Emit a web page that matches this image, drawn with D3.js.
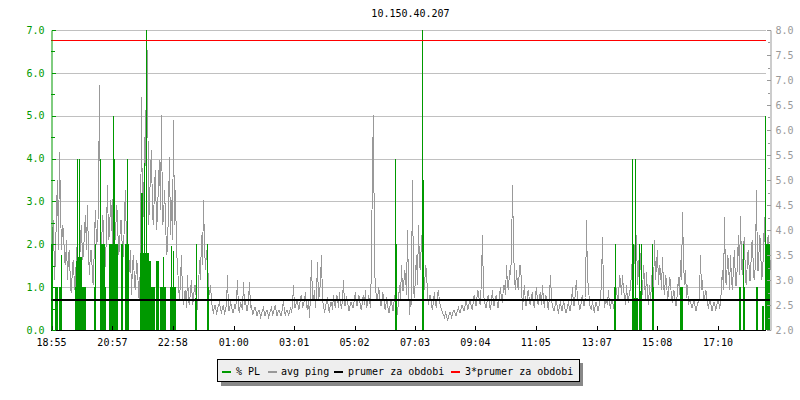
<!DOCTYPE html>
<html><head><meta charset="utf-8">
<script src="https://cdn.jsdelivr.net/npm/d3@7"></script>
<style>
body{margin:0;background:#fff;}
svg text{font-family:"DejaVu Sans Mono",monospace;font-size:10px;}
</style>
</head><body>
<svg id="c" width="800" height="400"></svg>
<script>
// ---------- data ----------
const chartTitle = "10.150.40.207";
const startLabel = "18:55";
const stepMinutes = 2;
const spanMinutes = 1440;
const timeTickLabels = ["18:55","20:57","22:58","01:00","03:01","05:02","07:03","09:04","11:05","13:07","15:08","17:10"];
const leftTickLabels = ["0.0","1.0","2.0","3.0","4.0","5.0","6.0","7.0"];
const rightTickLabels = ["2.0","2.5","3.0","3.5","4.0","4.5","5.0","5.5","6.0","6.5","7.0","7.5","8.0"];
const legendLabels = ["% PL","avg ping","prumer za obdobi","3*prumer za obdobi"];

// avg ping (ms), one value every 2 minutes from 18:55
const avgPing = [
3.3,3.9,4.2,3.0,3.5,4.4,5.0,3.6,5.55,4.5,
3.6,4.1,4.0,3.4,3.3,3.8,3.0,3.5,3.6,2.8,
2.75,3.3,3.4,2.8,2.9,3.6,3.7,3.0,3.2,3.9,
4.1,3.4,3.5,4.0,4.3,3.6,4.5,3.5,3.1,3.6,
3.6,3.0,2.9,3.9,4.4,3.7,3.8,4.6,6.9,3.9,
3.6,4.3,4.1,3.2,3.3,4.0,4.9,3.8,3.9,4.6,
4.4,3.6,5.6,4.0,3.8,4.5,4.3,3.5,3.6,4.2,
4.2,3.4,3.5,4.3,4.8,3.6,3.7,3.1,3.2,3.6,
2.7,3.3,3.5,2.9,2.8,3.4,3.3,2.7,2.6,3.5,
6.65,3.9,4.6,5.3,6.4,4.2,7.6,4.1,4.5,5.2,
5.6,4.3,4.1,4.9,5.2,4.0,4.3,5.0,5.4,4.4,
6.3,4.1,4.2,4.8,4.3,3.5,3.6,4.5,5.45,3.9,
4.6,3.8,6.2,4.1,4.8,3.6,3.3,2.9,2.6,3.0,
3.5,2.7,2.5,2.75,2.8,2.45,3.1,2.6,2.5,2.8,
3.0,2.5,2.6,2.9,2.9,2.5,2.4,2.8,3.4,3.0,
3.9,3.3,4.6,3.7,3.2,3.6,3.4,2.9,2.7,2.9,
2.6,2.4,2.35,2.5,2.5,2.3,2.4,2.5,2.55,2.4,
2.35,2.45,2.5,2.3,2.4,2.5,3.1,2.4,2.4,2.55,
2.5,2.35,2.35,2.5,2.45,2.6,3.0,2.4,2.35,2.55,
2.5,2.4,2.95,2.5,2.6,2.4,2.4,2.6,2.95,2.45,
2.5,2.3,2.35,2.45,2.45,2.3,2.3,2.4,2.4,2.25,
2.3,2.4,2.45,2.3,2.3,2.4,2.4,2.25,2.3,2.4,
2.45,2.3,2.35,2.45,2.5,2.3,2.3,2.4,2.4,2.3,
2.3,2.45,2.6,2.35,2.3,2.4,2.4,2.3,2.35,2.45,
2.35,2.5,2.9,2.45,2.45,2.6,2.6,2.4,2.45,2.65,
2.7,2.45,2.5,2.6,2.75,2.5,2.4,2.6,2.25,2.7,
3.4,2.6,2.6,2.8,2.45,2.7,3.35,2.6,2.7,3.0,
3.5,2.6,2.5,2.35,2.45,2.6,2.65,2.4,2.35,2.55,
2.55,2.4,2.7,2.5,2.45,2.7,2.65,2.45,2.75,2.5,
2.45,2.6,3.0,2.5,2.5,2.65,2.6,2.4,2.4,2.55,
2.55,2.45,2.45,2.65,2.75,2.5,2.5,2.7,2.65,2.45,
2.4,2.6,2.7,2.5,2.8,2.45,2.5,2.7,2.6,2.45,
3.35,5.4,6.3,3.2,2.9,2.6,2.6,2.85,2.75,2.5,
2.5,2.75,2.7,2.45,2.4,2.65,2.55,2.35,2.35,2.6,
2.6,2.4,2.4,2.7,2.7,2.5,2.3,2.6,2.9,2.6,
3.3,2.8,2.8,3.2,3.1,2.7,4.0,2.9,2.3,2.6,
2.5,2.9,5.0,2.8,2.65,3.1,3.5,2.9,4.1,3.3,
3.2,3.9,3.6,3.0,2.8,3.3,3.2,2.7,2.5,2.7,
2.7,2.5,2.4,2.6,2.75,2.5,2.45,2.7,2.8,2.55,
2.5,2.4,2.35,2.3,2.25,2.35,2.3,2.2,2.25,2.35,
2.35,2.25,2.3,2.4,2.4,2.3,2.3,2.4,2.45,2.35,
2.35,2.5,2.5,2.4,2.4,2.55,2.6,2.4,2.45,2.6,
2.55,2.45,2.4,2.65,2.7,2.5,2.5,2.8,2.75,2.55,
2.5,3.1,3.9,2.7,2.6,2.45,2.45,2.65,2.7,2.5,
2.4,2.6,2.8,2.5,2.5,2.65,2.7,2.45,2.45,2.7,
2.85,2.6,2.55,2.9,2.9,2.7,3.3,2.9,2.8,3.2,
3.1,3.5,4.9,3.7,3.0,2.8,3.2,2.9,2.8,3.3,
3.3,2.9,2.4,2.7,2.9,2.5,2.5,2.75,2.8,2.55,
2.5,2.7,2.75,2.5,2.45,2.7,2.85,2.55,2.5,2.7,
2.75,2.5,2.9,2.6,2.45,2.7,2.65,2.5,2.4,2.7,
3.1,2.6,2.5,2.4,2.4,2.55,2.6,2.4,2.35,2.5,
2.55,2.4,2.4,2.6,2.5,2.35,2.35,2.5,2.55,2.4,
2.4,2.6,2.85,2.5,2.5,2.8,3.0,2.6,2.6,2.4,
2.45,2.6,2.7,2.5,2.5,2.65,4.2,3.0,2.9,2.5,
2.45,2.4,2.6,2.4,2.35,2.55,2.55,2.4,2.4,2.55,
2.6,3.0,3.85,2.8,2.45,2.6,2.6,2.5,2.8,2.5,
2.45,2.6,2.6,2.45,2.5,2.9,2.8,2.6,2.6,3.1,
3.0,2.7,3.1,2.8,2.7,2.5,2.9,2.6,2.55,2.8,
2.8,3.2,3.45,2.9,3.7,3.1,3.9,2.9,3.2,3.6,
3.5,2.9,2.7,3.3,3.0,2.6,3.15,2.7,2.5,2.9,
2.6,2.9,3.3,2.7,3.8,3.0,3.3,3.6,2.9,3.3,
3.2,2.8,3.45,2.9,2.7,3.1,3.0,2.6,2.7,3.05,
3.0,2.6,2.55,2.8,2.75,2.5,2.5,2.8,3.05,2.7,
3.4,3.0,4.35,3.4,2.9,3.2,2.65,2.9,2.5,2.6,
2.6,2.45,2.45,2.6,2.55,2.4,2.4,2.55,2.55,2.7,
3.5,2.8,3.0,2.6,2.6,2.8,2.75,2.5,2.45,2.6,
2.6,2.4,2.4,2.55,2.55,2.4,2.45,2.6,2.6,2.45,
2.5,2.9,3.2,2.8,4.25,3.0,2.9,3.5,3.4,2.8,
3.5,3.0,2.8,3.3,3.6,2.9,2.9,3.4,3.9,3.1,
4.28,3.3,3.1,3.7,3.85,3.0,2.9,3.5,3.6,3.0,
3.0,3.7,3.8,3.1,3.0,3.4,4.8,3.2,3.2,3.9,
3.8,3.0,3.1,3.6,4.25,3.3,3.2,3.8,3.9,3.0,
3.4
];

// packet loss (%), minutes after 18:55 where it is non-zero
const plMinutes = [0,2,8,10,12,16,18,20,
48,50,52,54,56,58,60,62,64,66,68,
86,88,
98,100,102,104,106,108,
116,118,120,122,124,126,128,130,132,
140,142,
148,150,152,154,
178,180,182,184,186,188,190,192,194,196,198,
200,202,204,206,
210,212,214,
218,220,222,224,226,228,
238,240,242,244,246,248,
288,290,
312,314,
688,690,
744,746,
1128,1130,
1164,1166,1168,1170,1172,1174,
1178,1180,1182,
1204,1206,
1260,1262,1264,
1378,1380,
1386,1388,
1412,1414,
1424,1426,
1430,1432,1434,1436,1438];
const plValues = [2.0,2.0,1.0,1.0,1.0,1.0,1.0,1.75,
1.0,1.6,4.0,1.7,4.0,1.7,1.7,1.0,1.0,1.0,1.0,
1.0,2.0,
4.0,2.0,2.0,2.0,2.0,1.0,
2.0,2.0,2.0,2.0,5.0,4.0,2.0,2.0,2.0,
2.0,2.0,
2.0,2.0,4.0,2.0,
1.8,3.2,3.2,1.8,3.9,1.8,7.0,1.8,1.8,1.6,1.6,
1.0,1.0,1.0,1.0,
1.6,1.6,1.6,
1.0,1.0,1.0,1.7,1.0,1.0,
1.0,1.95,1.0,1.85,1.0,1.0,
0.74,2.0,
2.0,1.0,
4.0,2.0,
7.0,3.5,
1.0,2.0,
4.0,2.0,0.74,4.0,0.74,0.74,
2.0,0.9,2.0,
2.0,1.0,
1.0,1.0,1.0,
1.0,1.0,
2.0,1.0,
1.0,1.0,
0.55,0.55,
5.0,2.0,2.0,2.0,2.0];

const periodAverage = 2.604;     // prumer za obdobi
const periodAverage3x = 7.81;    // 3*prumer za obdobi

// ---------- drawing ----------
const X0 = 51, X1 = 770, GRID_END = 766, YTOP = 30, YBOT = 330;
const GREEN = "#009900", GRAY = "#999999", GRIDC = "#c0c0c0";
const svg = d3.select("#c");

const [sh, sm] = startLabel.split(":").map(Number);
const t0 = new Date(2024, 0, 1, sh, sm);
const tEnd = d3.timeMinute.offset(t0, spanMinutes);
const x = d3.scaleTime().domain([t0, tEnd]).range([X0, X1]);
const yL = d3.scaleLinear().domain([0, 7]).range([YBOT, YTOP]);
const yR = d3.scaleLinear().domain([2, 8]).range([YBOT, YTOP]);

function labelToTime(lbl) {
  const [h, m] = lbl.split(":").map(Number);
  let off = h * 60 + m - (sh * 60 + sm);
  if (off < 0) off += 1440;
  return d3.timeMinute.offset(t0, off);
}

// title
svg.append("text").attr("x", (X0 + X1) / 2).attr("y", 17)
  .attr("text-anchor", "middle").attr("fill", "#000").text(chartTitle);

// horizontal grid
svg.append("g").selectAll("line").data(leftTickLabels.map(Number).filter(v => v > 0))
  .join("line")
  .attr("x1", X0 + 4).attr("x2", GRID_END)
  .attr("y1", d => Math.round(yL(d)) + 0.5).attr("y2", d => Math.round(yL(d)) + 0.5)
  .attr("stroke", GRIDC).attr("stroke-width", 1);

// avg ping line
const pingPts = avgPing.map((v, i) => ({t: d3.timeMinute.offset(t0, i * stepMinutes), v}));
svg.append("path").datum(pingPts)
  .attr("d", d3.line().x(d => Math.round(x(d.t)) + 0.5).y(d => yR(d.v)))
  .attr("fill", "none").attr("stroke", GRAY).attr("stroke-width", 1)
  .attr("shape-rendering", "crispEdges");

// packet loss bars
const plPts = plMinutes.map((m, i) => ({t: d3.timeMinute.offset(t0, m), v: plValues[i]}));
svg.append("g").selectAll("rect").data(plPts).join("rect")
  .attr("x", d => Math.round(x(d.t))).attr("width", 1)
  .attr("y", d => Math.round(yL(d.v))).attr("height", d => YBOT - Math.round(yL(d.v)))
  .attr("fill", GREEN).attr("shape-rendering", "crispEdges");

// average lines
svg.append("line").attr("x1", X0).attr("x2", X1)
  .attr("y1", Math.round(yR(periodAverage))).attr("y2", Math.round(yR(periodAverage)))
  .attr("stroke", "#000").attr("stroke-width", 2).attr("shape-rendering", "crispEdges");
svg.append("line").attr("x1", X0).attr("x2", GRID_END)
  .attr("y1", Math.round(yR(periodAverage3x)) + 0.5).attr("y2", Math.round(yR(periodAverage3x)) + 0.5)
  .attr("stroke", "#ff0000").attr("stroke-width", 1);

// x axis
const gx = svg.append("g").attr("transform", `translate(0,${YBOT + 0.5})`)
  .call(d3.axisBottom(x)
    .tickValues(timeTickLabels.map(labelToTime))
    .tickFormat((d, i) => timeTickLabels[i])
    .tickSize(-5).tickSizeOuter(0).tickPadding(8));
gx.select(".domain").attr("stroke", "#000").attr("d", `M${X0},0H${GRID_END}`);
gx.selectAll(".tick line").attr("stroke", "#000").attr("shape-rendering", "crispEdges")
  .attr("transform", "translate(0.5,0)");
gx.selectAll("text").attr("fill", "#000").attr("font-family", null).attr("font-size", null);

// left axis
const gl = svg.append("g").attr("transform", `translate(${X0 + 0.5},0)`)
  .call(d3.axisLeft(yL)
    .tickValues(leftTickLabels.map(Number))
    .tickFormat((d, i) => leftTickLabels[i])
    .tickSize(-4).tickSizeOuter(0).tickPadding(7));
gl.select(".domain").attr("stroke", GREEN);
gl.selectAll(".tick line").attr("stroke", GREEN).attr("shape-rendering", "crispEdges");
gl.selectAll("text").attr("fill", GREEN).attr("font-family", null).attr("font-size", null);
svg.append("g").selectAll("line").data(d3.range(0.5, 7, 1)).join("line")
  .attr("x1", X0).attr("x2", X0 + 4)
  .attr("y1", d => Math.round(yL(d)) + 0.5).attr("y2", d => Math.round(yL(d)) + 0.5)
  .attr("stroke", GREEN);

// right axis
const gr = svg.append("g").attr("transform", `translate(${X1 + 0.5},0)`)
  .call(d3.axisRight(yR)
    .tickValues(rightTickLabels.map(Number))
    .tickFormat((d, i) => rightTickLabels[i])
    .tickSize(-4).tickSizeOuter(0).tickPadding(5));
gr.select(".domain").attr("stroke", GRAY);
gr.selectAll(".tick line").attr("stroke", GRAY).attr("shape-rendering", "crispEdges");
gr.selectAll("text").attr("fill", GRAY).attr("font-family", null).attr("font-size", null);
svg.append("g").selectAll("line").data(d3.range(2.25, 8, 0.5)).join("line")
  .attr("x1", X1 - 2).attr("x2", X1)
  .attr("y1", d => Math.round(yR(d)) + 0.5).attr("y2", d => Math.round(yR(d)) + 0.5)
  .attr("stroke", GRAY);

// legend
const lg = svg.append("g");
lg.append("rect").attr("x", 221).attr("y", 363).attr("width", 362).attr("height", 23).attr("fill", "#888");
lg.append("rect").attr("x", 217.5).attr("y", 359.5).attr("width", 362).attr("height", 22)
  .attr("fill", "#eeeeee").attr("stroke", "#000");
const legendColors = [GREEN, GRAY, "#000000", "#ff0000"];
const swatchX = [222, 268, 334, 451];
const textX = [236, 281, 348, 465];
legendLabels.forEach((lbl, i) => {
  lg.append("rect").attr("x", swatchX[i]).attr("y", 371).attr("width", 9).attr("height", 2).attr("fill", legendColors[i]);
  lg.append("text").attr("x", textX[i]).attr("y", 375).attr("fill", "#000").text(lbl);
});
</script>
</body></html>
